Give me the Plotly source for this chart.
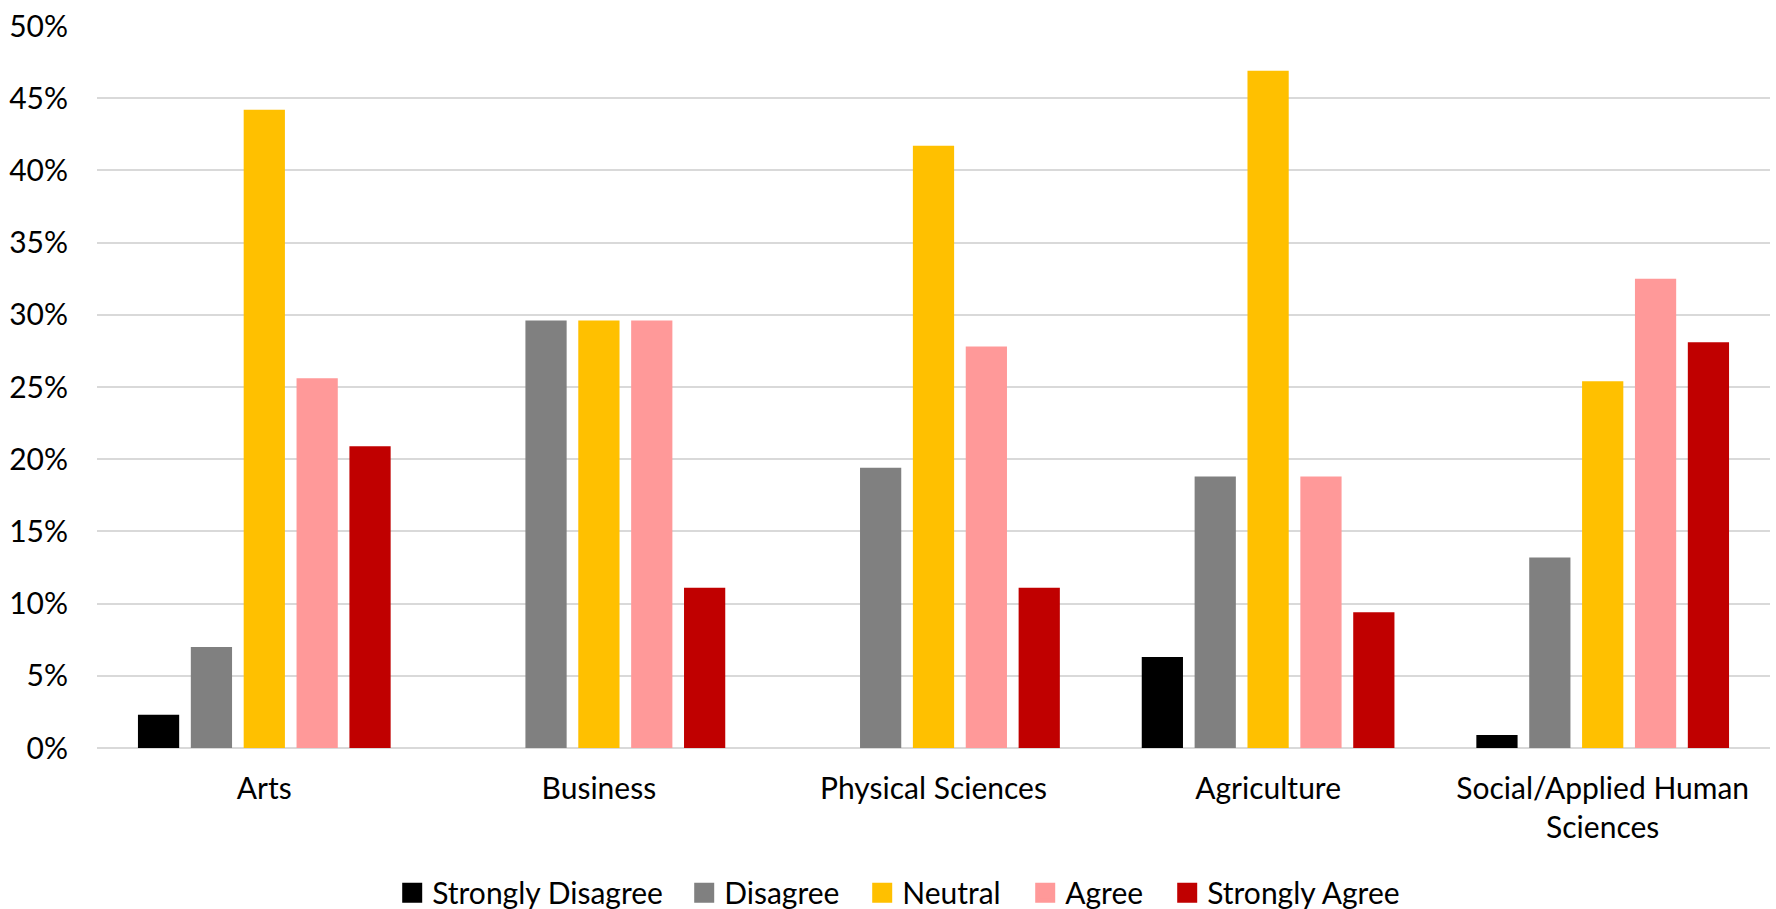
import plotly.graph_objects as go

# Survey responses by faculty (percent of respondents)
categories = ["Arts", "Business", "Physical Sciences", "Agriculture",
              "Social/Applied Human<br>Sciences"]
responses = ["Strongly Disagree", "Disagree", "Neutral", "Agree", "Strongly Agree"]

strongly_disagree = [2.3, 0.0, 0.0, 6.3, 0.9]
disagree = [7.0, 29.6, 19.4, 18.8, 13.2]
neutral = [44.2, 29.6, 41.7, 46.9, 25.4]
agree = [25.6, 29.6, 27.8, 18.8, 32.5]
strongly_agree = [20.9, 11.1, 11.1, 9.4, 28.1]

y_ticks = [0, 5, 10, 15, 20, 25, 30, 35, 40, 45, 50]
y_tick_labels = [f"{v}%" for v in y_ticks]

series = [strongly_disagree, disagree, neutral, agree, strongly_agree]
colors = ["#000000", "#808080", "#FFC000", "#FF9999", "#C00000"]
# width reserved for each legend entry's label (px)
legend_widths = [247, 133, 118, 97, 200]

FONT = "Lato"
SIZE = 30

fig = go.Figure()

for name, vals, col in zip(responses, series, colors):
    fig.add_trace(go.Bar(
        x=categories, y=vals, name=name,
        marker=dict(color=col, line=dict(width=0)),
        showlegend=False,
        hovertemplate="%{x}: %{y}%<extra>" + name + "</extra>",
    ))

# Legend entries with larger square swatches
for name, col, lw in zip(responses, colors, legend_widths):
    fig.add_trace(go.Scatter(
        x=[None], y=[None], mode="markers", name=name,
        marker=dict(symbol="square", size=19, color=col,
                    line=dict(width=4, color=col)),
        showlegend=True, legendwidth=lw,
    ))

fig.update_layout(
    width=1776, height=909,
    margin=dict(l=97, r=6, t=22, b=161),
    paper_bgcolor="white", plot_bgcolor="white",
    barmode="group", bargap=0.21, bargroupgap=0.22,
    font=dict(family=FONT, size=SIZE, color="#000000"),
    legend=dict(
        orientation="h", xref="container", yref="container",
        x=0.508, xanchor="center", y=0.018, yanchor="middle",
        font=dict(family=FONT, size=SIZE, color="#000000"),
        itemsizing="trace", tracegroupgap=0,
    ),
    xaxis=dict(
        showgrid=False, showline=False, zeroline=False,
        ticks="", tickfont=dict(family=FONT, size=SIZE, color="#000000"),
        ticklabelstandoff=20,
    ),
    yaxis=dict(
        range=[0, 50], tickmode="array", tickvals=y_ticks, ticktext=y_tick_labels,
        showgrid=True, gridcolor="#D9D9D9", gridwidth=2,
        zeroline=True, zerolinecolor="#D9D9D9", zerolinewidth=2,
        showline=False, ticks="",
        tickfont=dict(family=FONT, size=SIZE, color="#000000"),
        ticklabelstandoff=28,
    ),
)

fig.write_html("out.html")
